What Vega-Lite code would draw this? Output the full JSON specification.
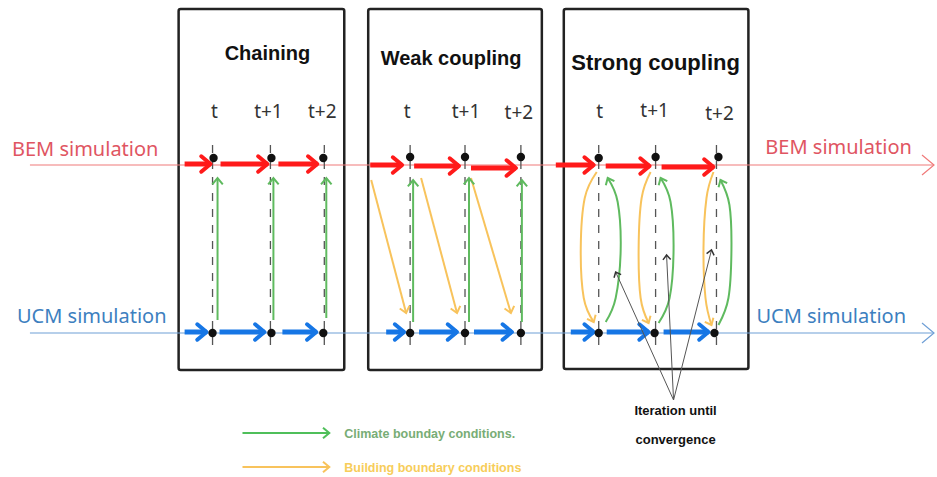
{
  "$schema": "https://vega.github.io/schema/vega-lite/v6.json",
  "autosize": {"type": "fit", "contains": "padding"},
  "width": 937,
  "height": 477,
  "padding": 0,
  "background": "white",
  "config": {"view": {"stroke": null}},
  "datasets": {
    "boxes": [
      {"name": "Chaining", "x": 179, "x2": 345, "y": 9, "y2": 370},
      {"name": "Weak coupling", "x": 369, "x2": 543, "y": 9, "y2": 370},
      {"name": "Strong coupling", "x": 565, "x2": 750, "y": 9, "y2": 369}
    ],
    "titles": [
      {"text": "Chaining", "x": 268, "y": 54},
      {"text": "Weak coupling", "x": 452, "y": 59},
      {"text": "Strong coupling", "x": 657, "y": 63}
    ],
    "steps": [
      {"text": "t", "x": 215, "y": 112}, {"text": "t+1", "x": 269, "y": 112}, {"text": "t+2", "x": 323, "y": 112},
      {"text": "t", "x": 408, "y": 112}, {"text": "t+1", "x": 467, "y": 112}, {"text": "t+2", "x": 520, "y": 113},
      {"text": "t", "x": 601, "y": 112}, {"text": "t+1", "x": 656, "y": 111}, {"text": "t+2", "x": 721, "y": 114}
    ],
    "dots": [
      {"sim": "BEM", "x": 214, "y": 158}, {"sim": "BEM", "x": 272, "y": 158}, {"sim": "BEM", "x": 324, "y": 158},
      {"sim": "BEM", "x": 411, "y": 157}, {"sim": "BEM", "x": 466, "y": 157}, {"sim": "BEM", "x": 522, "y": 157},
      {"sim": "BEM", "x": 600, "y": 158}, {"sim": "BEM", "x": 657, "y": 157}, {"sim": "BEM", "x": 720, "y": 157},
      {"sim": "UCM", "x": 213, "y": 333}, {"sim": "UCM", "x": 272, "y": 333}, {"sim": "UCM", "x": 324, "y": 333},
      {"sim": "UCM", "x": 411, "y": 333}, {"sim": "UCM", "x": 466, "y": 333}, {"sim": "UCM", "x": 522, "y": 333},
      {"sim": "UCM", "x": 600, "y": 333}, {"sim": "UCM", "x": 656, "y": 333}, {"sim": "UCM", "x": 716, "y": 333}
    ],
    "dashes": [
      {"x": 213, "y": 145, "y2": 348}, {"x": 271, "y": 145, "y2": 348}, {"x": 325, "y": 145, "y2": 348},
      {"x": 411, "y": 145, "y2": 348}, {"x": 466, "y": 145, "y2": 348}, {"x": 522, "y": 145, "y2": 348},
      {"x": 600, "y": 145, "y2": 348}, {"x": 657, "y": 145, "y2": 348}, {"x": 718, "y": 145, "y2": 348}
    ],
    "sidelines": [
      {"sim": "BEM", "x": 30, "y": 165, "x2": 936, "y2": 165},
      {"sim": "UCM", "x": 30, "y": 333, "x2": 936, "y2": 333}
    ],
    "sidelabels": [
      {"sim": "BEM", "text": "BEM simulation", "x": 12, "y": 150},
      {"sim": "BEM", "text": "BEM simulation", "x": 767, "y": 148},
      {"sim": "UCM", "text": "UCM simulation", "x": 17, "y": 317},
      {"sim": "UCM", "text": "UCM simulation", "x": 758, "y": 317}
    ],
    "thick": [
      {"sim": "BEM", "x": 185, "y": 164, "x2": 211, "y2": 164},
      {"sim": "BEM", "x": 221, "y": 164, "x2": 268, "y2": 164},
      {"sim": "BEM", "x": 279, "y": 164, "x2": 318, "y2": 164},
      {"sim": "BEM", "x": 371, "y": 165, "x2": 403, "y2": 165},
      {"sim": "BEM", "x": 415, "y": 166, "x2": 460, "y2": 166},
      {"sim": "BEM", "x": 472, "y": 168, "x2": 517, "y2": 168},
      {"sim": "BEM", "x": 557, "y": 165, "x2": 595, "y2": 165},
      {"sim": "BEM", "x": 607, "y": 166, "x2": 651, "y2": 166},
      {"sim": "BEM", "x": 663, "y": 167, "x2": 715, "y2": 167},
      {"sim": "UCM", "x": 185, "y": 332, "x2": 207, "y2": 332},
      {"sim": "UCM", "x": 220, "y": 332, "x2": 265, "y2": 332},
      {"sim": "UCM", "x": 283, "y": 332, "x2": 317, "y2": 332},
      {"sim": "UCM", "x": 387, "y": 332, "x2": 405, "y2": 332},
      {"sim": "UCM", "x": 420, "y": 332, "x2": 458, "y2": 332},
      {"sim": "UCM", "x": 475, "y": 332, "x2": 513, "y2": 332},
      {"sim": "UCM", "x": 572, "y": 332, "x2": 595, "y2": 332},
      {"sim": "UCM", "x": 608, "y": 332, "x2": 650, "y2": 332},
      {"sim": "UCM", "x": 665, "y": 332, "x2": 710, "y2": 332}
    ],
    "cond": [
      {"kind": "climate", "x": 218, "y": 320, "x2": 218, "y2": 178},
      {"kind": "climate", "x": 274, "y": 320, "x2": 274, "y2": 178},
      {"kind": "climate", "x": 327, "y": 318, "x2": 327, "y2": 178},
      {"kind": "climate", "x": 414, "y": 322, "x2": 414, "y2": 180},
      {"kind": "climate", "x": 470, "y": 322, "x2": 470, "y2": 178},
      {"kind": "climate", "x": 523, "y": 322, "x2": 523, "y2": 180},
      {"kind": "building", "x": 372, "y": 180, "x2": 407, "y2": 313},
      {"kind": "building", "x": 422, "y": 178, "x2": 458, "y2": 313},
      {"kind": "building", "x": 472, "y": 178, "x2": 512, "y2": 313}
    ],
    "arcs": [
      {"arc": "b1", "kind": "building", "i": 0, "x": 598, "y": 172},
      {"arc": "b1", "kind": "building", "i": 1, "x": 586, "y": 198},
      {"arc": "b1", "kind": "building", "i": 2, "x": 582, "y": 248},
      {"arc": "b1", "kind": "building", "i": 3, "x": 585, "y": 298},
      {"arc": "b1", "kind": "building", "i": 4, "x": 595, "y": 322},
      {"arc": "c1", "kind": "climate", "i": 0, "x": 607, "y": 322},
      {"arc": "c1", "kind": "climate", "i": 1, "x": 617, "y": 298},
      {"arc": "c1", "kind": "climate", "i": 2, "x": 622, "y": 250},
      {"arc": "c1", "kind": "climate", "i": 3, "x": 619, "y": 202},
      {"arc": "c1", "kind": "climate", "i": 4, "x": 609, "y": 178},
      {"arc": "b2", "kind": "building", "i": 0, "x": 652, "y": 172},
      {"arc": "b2", "kind": "building", "i": 1, "x": 643, "y": 198},
      {"arc": "b2", "kind": "building", "i": 2, "x": 640, "y": 248},
      {"arc": "b2", "kind": "building", "i": 3, "x": 642, "y": 298},
      {"arc": "b2", "kind": "building", "i": 4, "x": 650, "y": 323},
      {"arc": "c2", "kind": "climate", "i": 0, "x": 660, "y": 323},
      {"arc": "c2", "kind": "climate", "i": 1, "x": 671, "y": 298},
      {"arc": "c2", "kind": "climate", "i": 2, "x": 675, "y": 250},
      {"arc": "c2", "kind": "climate", "i": 3, "x": 672, "y": 202},
      {"arc": "c2", "kind": "climate", "i": 4, "x": 662, "y": 178},
      {"arc": "b3", "kind": "building", "i": 0, "x": 715, "y": 172},
      {"arc": "b3", "kind": "building", "i": 1, "x": 708, "y": 198},
      {"arc": "b3", "kind": "building", "i": 2, "x": 705, "y": 248},
      {"arc": "b3", "kind": "building", "i": 3, "x": 707, "y": 298},
      {"arc": "b3", "kind": "building", "i": 4, "x": 713, "y": 325},
      {"arc": "c3", "kind": "climate", "i": 0, "x": 720, "y": 325},
      {"arc": "c3", "kind": "climate", "i": 1, "x": 730, "y": 298},
      {"arc": "c3", "kind": "climate", "i": 2, "x": 733, "y": 250},
      {"arc": "c3", "kind": "climate", "i": 3, "x": 731, "y": 205},
      {"arc": "c3", "kind": "climate", "i": 4, "x": 722, "y": 180}
    ],
    "iter": [
      {"target": "t", "x": 675, "y": 400, "x2": 617, "y2": 272},
      {"target": "t+1", "x": 675, "y": 400, "x2": 668, "y2": 255},
      {"target": "t+2", "x": 675, "y": 400, "x2": 713, "y2": 250}
    ],
    "legend": [
      {"kind": "climate", "x": 243, "y": 433, "x2": 330, "y2": 433},
      {"kind": "building", "x": 243, "y": 467, "x2": 330, "y2": 467}
    ],
    "legendtext": [
      {"kind": "climate", "text": "Climate bounday conditions.", "x": 345, "y": 434},
      {"kind": "building", "text": "Building boundary conditions", "x": 345, "y": 468}
    ],
    "notes": [
      {"text": "Iteration until", "x": 677, "y": 411},
      {"text": "convergence", "x": 677, "y": 440}
    ]
  },
  "layer": [
    {
      "data": {"name": "boxes"},
      "mark": {"type": "rect", "filled": false, "stroke": "#222222", "strokeWidth": 2.5, "cornerRadius": 2},
      "encoding": {
        "x": {"field": "x", "type": "quantitative", "scale": {"domain": [0, 937], "nice": false, "zero": false}, "axis": null},
        "x2": {"field": "x2"},
        "y": {"field": "y", "type": "quantitative", "scale": {"domain": [0, 477], "nice": false, "zero": false, "reverse": true}, "axis": null},
        "y2": {"field": "y2"}
      }
    },
    {
      "data": {"name": "sidelines"},
      "transform": [{"filter": "datum.sim == 'BEM'"}],
      "mark": {"type": "rule", "color": "#f07a7a", "strokeWidth": 1.2},
      "encoding": {
        "x": {"field": "x", "type": "quantitative", "scale": {"domain": [0, 937], "nice": false, "zero": false}, "axis": null},
        "x2": {"field": "x2"},
        "y": {"field": "y", "type": "quantitative", "scale": {"domain": [0, 477], "nice": false, "zero": false, "reverse": true}, "axis": null},
        "y2": {"field": "y2"}
      }
    },
    {
      "data": {"name": "sidelines"},
      "transform": [{"filter": "datum.sim == 'UCM'"}],
      "mark": {"type": "rule", "color": "#6f9fd6", "strokeWidth": 1.2},
      "encoding": {
        "x": {"field": "x", "type": "quantitative", "scale": {"domain": [0, 937], "nice": false, "zero": false}, "axis": null},
        "x2": {"field": "x2"},
        "y": {"field": "y", "type": "quantitative", "scale": {"domain": [0, 477], "nice": false, "zero": false, "reverse": true}, "axis": null},
        "y2": {"field": "y2"}
      }
    },
    {
      "data": {"name": "sidelines"},
      "transform": [{"filter": "datum.sim == 'BEM'"}],
      "mark": {"type": "point", "shape": "M-1.2,-1L0,0L-1.2,1", "size": 400, "filled": false, "stroke": "#f07a7a", "strokeWidth": 1.2, "opacity": 1, "angle": 0},
      "encoding": {
        "x": {"field": "x2", "type": "quantitative", "scale": {"domain": [0, 937], "nice": false, "zero": false}, "axis": null},
        "y": {"field": "y2", "type": "quantitative", "scale": {"domain": [0, 477], "nice": false, "zero": false, "reverse": true}, "axis": null}
      }
    },
    {
      "data": {"name": "sidelines"},
      "transform": [{"filter": "datum.sim == 'UCM'"}],
      "mark": {"type": "point", "shape": "M-1.2,-1L0,0L-1.2,1", "size": 400, "filled": false, "stroke": "#6f9fd6", "strokeWidth": 1.2, "opacity": 1, "angle": 0},
      "encoding": {
        "x": {"field": "x2", "type": "quantitative", "scale": {"domain": [0, 937], "nice": false, "zero": false}, "axis": null},
        "y": {"field": "y2", "type": "quantitative", "scale": {"domain": [0, 477], "nice": false, "zero": false, "reverse": true}, "axis": null}
      }
    },
    {
      "data": {"name": "dashes"},
      "mark": {"type": "rule", "color": "#555555", "strokeWidth": 1.3, "strokeDash": [8, 8]},
      "encoding": {
        "x": {"field": "x", "type": "quantitative", "scale": {"domain": [0, 937], "nice": false, "zero": false}, "axis": null},
        "y": {"field": "y", "type": "quantitative", "scale": {"domain": [0, 477], "nice": false, "zero": false, "reverse": true}, "axis": null},
        "y2": {"field": "y2"}
      }
    },
    {
      "data": {"name": "cond"},
      "transform": [{"filter": "datum.kind == 'climate'"}],
      "mark": {"type": "rule", "color": "#5fba5f", "strokeWidth": 2},
      "encoding": {
        "x": {"field": "x", "type": "quantitative", "scale": {"domain": [0, 937], "nice": false, "zero": false}, "axis": null},
        "x2": {"field": "x2"},
        "y": {"field": "y", "type": "quantitative", "scale": {"domain": [0, 477], "nice": false, "zero": false, "reverse": true}, "axis": null},
        "y2": {"field": "y2"}
      }
    },
    {
      "data": {"name": "cond"},
      "transform": [{"filter": "datum.kind == 'building'"}],
      "mark": {"type": "rule", "color": "#f8c35c", "strokeWidth": 2},
      "encoding": {
        "x": {"field": "x", "type": "quantitative", "scale": {"domain": [0, 937], "nice": false, "zero": false}, "axis": null},
        "x2": {"field": "x2"},
        "y": {"field": "y", "type": "quantitative", "scale": {"domain": [0, 477], "nice": false, "zero": false, "reverse": true}, "axis": null},
        "y2": {"field": "y2"}
      }
    },
    {
      "data": {"name": "cond"},
      "transform": [{"filter": "datum.kind == 'climate'"}],
      "mark": {"type": "point", "shape": "M-1.2,-1L0,0L-1.2,1", "size": 110, "filled": false, "stroke": "#5fba5f", "strokeWidth": 2, "opacity": 1, "angle": 270},
      "encoding": {
        "x": {"field": "x2", "type": "quantitative", "scale": {"domain": [0, 937], "nice": false, "zero": false}, "axis": null},
        "y": {"field": "y2", "type": "quantitative", "scale": {"domain": [0, 477], "nice": false, "zero": false, "reverse": true}, "axis": null}
      }
    },
    {
      "data": {"name": "cond"},
      "transform": [{"filter": "datum.kind == 'building'"}],
      "mark": {"type": "point", "shape": "M-1.2,-1L0,0L-1.2,1", "size": 100, "filled": false, "stroke": "#f8c35c", "strokeWidth": 2, "opacity": 1, "angle": 75},
      "encoding": {
        "x": {"field": "x2", "type": "quantitative", "scale": {"domain": [0, 937], "nice": false, "zero": false}, "axis": null},
        "y": {"field": "y2", "type": "quantitative", "scale": {"domain": [0, 477], "nice": false, "zero": false, "reverse": true}, "axis": null}
      }
    },
    {
      "data": {"name": "arcs"},
      "transform": [{"filter": "datum.kind == 'building'"}],
      "mark": {"type": "line", "color": "#f8c35c", "strokeWidth": 2, "interpolate": "cardinal"},
      "encoding": {
        "x": {"field": "x", "type": "quantitative", "scale": {"domain": [0, 937], "nice": false, "zero": false}, "axis": null},
        "y": {"field": "y", "type": "quantitative", "scale": {"domain": [0, 477], "nice": false, "zero": false, "reverse": true}, "axis": null},
        "detail": {"field": "arc", "type": "nominal"},
        "order": {"field": "i", "type": "quantitative"}
      }
    },
    {
      "data": {"name": "arcs"},
      "transform": [{"filter": "datum.kind == 'climate'"}],
      "mark": {"type": "line", "color": "#5fba5f", "strokeWidth": 2, "interpolate": "cardinal"},
      "encoding": {
        "x": {"field": "x", "type": "quantitative", "scale": {"domain": [0, 937], "nice": false, "zero": false}, "axis": null},
        "y": {"field": "y", "type": "quantitative", "scale": {"domain": [0, 477], "nice": false, "zero": false, "reverse": true}, "axis": null},
        "detail": {"field": "arc", "type": "nominal"},
        "order": {"field": "i", "type": "quantitative"}
      }
    },
    {
      "data": {"name": "arcs"},
      "transform": [{"filter": "datum.kind == 'building' && datum.i == 4"}],
      "mark": {"type": "point", "shape": "M-1.2,-1L0,0L-1.2,1", "size": 90, "filled": false, "stroke": "#f8c35c", "strokeWidth": 2, "opacity": 1, "angle": 65},
      "encoding": {
        "x": {"field": "x", "type": "quantitative", "scale": {"domain": [0, 937], "nice": false, "zero": false}, "axis": null},
        "y": {"field": "y", "type": "quantitative", "scale": {"domain": [0, 477], "nice": false, "zero": false, "reverse": true}, "axis": null}
      }
    },
    {
      "data": {"name": "arcs"},
      "transform": [{"filter": "datum.kind == 'climate' && datum.i == 4"}],
      "mark": {"type": "point", "shape": "M-1.2,-1L0,0L-1.2,1", "size": 90, "filled": false, "stroke": "#5fba5f", "strokeWidth": 2, "opacity": 1, "angle": 245},
      "encoding": {
        "x": {"field": "x", "type": "quantitative", "scale": {"domain": [0, 937], "nice": false, "zero": false}, "axis": null},
        "y": {"field": "y", "type": "quantitative", "scale": {"domain": [0, 477], "nice": false, "zero": false, "reverse": true}, "axis": null}
      }
    },
    {
      "data": {"name": "thick"},
      "transform": [{"filter": "datum.sim == 'BEM'"}],
      "mark": {"type": "rule", "color": "#ff1a1a", "strokeWidth": 5, "strokeCap": "butt"},
      "encoding": {
        "x": {"field": "x", "type": "quantitative", "scale": {"domain": [0, 937], "nice": false, "zero": false}, "axis": null},
        "x2": {"field": "x2"},
        "y": {"field": "y", "type": "quantitative", "scale": {"domain": [0, 477], "nice": false, "zero": false, "reverse": true}, "axis": null},
        "y2": {"field": "y2"}
      }
    },
    {
      "data": {"name": "thick"},
      "transform": [{"filter": "datum.sim == 'UCM'"}],
      "mark": {"type": "rule", "color": "#1676e5", "strokeWidth": 5, "strokeCap": "butt"},
      "encoding": {
        "x": {"field": "x", "type": "quantitative", "scale": {"domain": [0, 937], "nice": false, "zero": false}, "axis": null},
        "x2": {"field": "x2"},
        "y": {"field": "y", "type": "quantitative", "scale": {"domain": [0, 477], "nice": false, "zero": false, "reverse": true}, "axis": null},
        "y2": {"field": "y2"}
      }
    },
    {
      "data": {"name": "thick"},
      "transform": [{"filter": "datum.sim == 'BEM'"}],
      "mark": {"type": "point", "shape": "M-1.2,-1L0,0L-1.2,1", "size": 240, "filled": false, "stroke": "#ff1a1a", "strokeWidth": 4, "opacity": 1, "strokeJoin": "round", "strokeCap": "round"},
      "encoding": {
        "x": {"field": "x2", "type": "quantitative", "scale": {"domain": [0, 937], "nice": false, "zero": false}, "axis": null},
        "y": {"field": "y2", "type": "quantitative", "scale": {"domain": [0, 477], "nice": false, "zero": false, "reverse": true}, "axis": null}
      }
    },
    {
      "data": {"name": "thick"},
      "transform": [{"filter": "datum.sim == 'UCM'"}],
      "mark": {"type": "point", "shape": "M-1.2,-1L0,0L-1.2,1", "size": 240, "filled": false, "stroke": "#1676e5", "strokeWidth": 4, "opacity": 1, "strokeJoin": "round", "strokeCap": "round"},
      "encoding": {
        "x": {"field": "x2", "type": "quantitative", "scale": {"domain": [0, 937], "nice": false, "zero": false}, "axis": null},
        "y": {"field": "y2", "type": "quantitative", "scale": {"domain": [0, 477], "nice": false, "zero": false, "reverse": true}, "axis": null}
      }
    },
    {
      "data": {"name": "dots"},
      "mark": {"type": "circle", "color": "#111111", "size": 70, "opacity": 1},
      "encoding": {
        "x": {"field": "x", "type": "quantitative", "scale": {"domain": [0, 937], "nice": false, "zero": false}, "axis": null},
        "y": {"field": "y", "type": "quantitative", "scale": {"domain": [0, 477], "nice": false, "zero": false, "reverse": true}, "axis": null}
      }
    },
    {
      "data": {"name": "iter"},
      "mark": {"type": "rule", "color": "#555555", "strokeWidth": 1},
      "encoding": {
        "x": {"field": "x", "type": "quantitative", "scale": {"domain": [0, 937], "nice": false, "zero": false}, "axis": null},
        "x2": {"field": "x2"},
        "y": {"field": "y", "type": "quantitative", "scale": {"domain": [0, 477], "nice": false, "zero": false, "reverse": true}, "axis": null},
        "y2": {"field": "y2"}
      }
    },
    {
      "data": {"name": "iter"},
      "transform": [{"filter": "datum.target == 't'"}],
      "mark": {"type": "point", "shape": "M-1.2,-1L0,0L-1.2,1", "size": 60, "filled": false, "stroke": "#333333", "strokeWidth": 1.5, "opacity": 1, "angle": 246},
      "encoding": {
        "x": {"field": "x2", "type": "quantitative", "scale": {"domain": [0, 937], "nice": false, "zero": false}, "axis": null},
        "y": {"field": "y2", "type": "quantitative", "scale": {"domain": [0, 477], "nice": false, "zero": false, "reverse": true}, "axis": null}
      }
    },
    {
      "data": {"name": "iter"},
      "transform": [{"filter": "datum.target == 't+1'"}],
      "mark": {"type": "point", "shape": "M-1.2,-1L0,0L-1.2,1", "size": 60, "filled": false, "stroke": "#333333", "strokeWidth": 1.5, "opacity": 1, "angle": 267},
      "encoding": {
        "x": {"field": "x2", "type": "quantitative", "scale": {"domain": [0, 937], "nice": false, "zero": false}, "axis": null},
        "y": {"field": "y2", "type": "quantitative", "scale": {"domain": [0, 477], "nice": false, "zero": false, "reverse": true}, "axis": null}
      }
    },
    {
      "data": {"name": "iter"},
      "transform": [{"filter": "datum.target == 't+2'"}],
      "mark": {"type": "point", "shape": "M-1.2,-1L0,0L-1.2,1", "size": 60, "filled": false, "stroke": "#333333", "strokeWidth": 1.5, "opacity": 1, "angle": 284},
      "encoding": {
        "x": {"field": "x2", "type": "quantitative", "scale": {"domain": [0, 937], "nice": false, "zero": false}, "axis": null},
        "y": {"field": "y2", "type": "quantitative", "scale": {"domain": [0, 477], "nice": false, "zero": false, "reverse": true}, "axis": null}
      }
    },
    {
      "data": {"name": "legend"},
      "transform": [{"filter": "datum.kind == 'climate'"}],
      "mark": {"type": "rule", "color": "#4fbf5a", "strokeWidth": 2},
      "encoding": {
        "x": {"field": "x", "type": "quantitative", "scale": {"domain": [0, 937], "nice": false, "zero": false}, "axis": null},
        "x2": {"field": "x2"},
        "y": {"field": "y", "type": "quantitative", "scale": {"domain": [0, 477], "nice": false, "zero": false, "reverse": true}, "axis": null},
        "y2": {"field": "y2"}
      }
    },
    {
      "data": {"name": "legend"},
      "transform": [{"filter": "datum.kind == 'building'"}],
      "mark": {"type": "rule", "color": "#f8c35c", "strokeWidth": 2},
      "encoding": {
        "x": {"field": "x", "type": "quantitative", "scale": {"domain": [0, 937], "nice": false, "zero": false}, "axis": null},
        "x2": {"field": "x2"},
        "y": {"field": "y", "type": "quantitative", "scale": {"domain": [0, 477], "nice": false, "zero": false, "reverse": true}, "axis": null},
        "y2": {"field": "y2"}
      }
    },
    {
      "data": {"name": "legend"},
      "transform": [{"filter": "datum.kind == 'climate'"}],
      "mark": {"type": "point", "shape": "M-1.2,-1L0,0L-1.2,1", "size": 110, "filled": false, "stroke": "#4fbf5a", "strokeWidth": 2, "opacity": 1, "angle": 0},
      "encoding": {
        "x": {"field": "x2", "type": "quantitative", "scale": {"domain": [0, 937], "nice": false, "zero": false}, "axis": null},
        "y": {"field": "y2", "type": "quantitative", "scale": {"domain": [0, 477], "nice": false, "zero": false, "reverse": true}, "axis": null}
      }
    },
    {
      "data": {"name": "legend"},
      "transform": [{"filter": "datum.kind == 'building'"}],
      "mark": {"type": "point", "shape": "M-1.2,-1L0,0L-1.2,1", "size": 110, "filled": false, "stroke": "#f8c35c", "strokeWidth": 2, "opacity": 1, "angle": 0},
      "encoding": {
        "x": {"field": "x2", "type": "quantitative", "scale": {"domain": [0, 937], "nice": false, "zero": false}, "axis": null},
        "y": {"field": "y2", "type": "quantitative", "scale": {"domain": [0, 477], "nice": false, "zero": false, "reverse": true}, "axis": null}
      }
    },
    {
      "data": {"name": "legendtext"},
      "transform": [{"filter": "datum.kind == 'climate'"}],
      "mark": {"type": "text", "align": "left", "baseline": "middle", "font": "Liberation Sans", "fontWeight": "bold", "fontSize": 12.5, "color": "#78ad76"},
      "encoding": {
        "x": {"field": "x", "type": "quantitative", "scale": {"domain": [0, 937], "nice": false, "zero": false}, "axis": null},
        "y": {"field": "y", "type": "quantitative", "scale": {"domain": [0, 477], "nice": false, "zero": false, "reverse": true}, "axis": null},
        "text": {"field": "text"}
      }
    },
    {
      "data": {"name": "legendtext"},
      "transform": [{"filter": "datum.kind == 'building'"}],
      "mark": {"type": "text", "align": "left", "baseline": "middle", "font": "Liberation Sans", "fontWeight": "bold", "fontSize": 12.5, "color": "#f7cd5a"},
      "encoding": {
        "x": {"field": "x", "type": "quantitative", "scale": {"domain": [0, 937], "nice": false, "zero": false}, "axis": null},
        "y": {"field": "y", "type": "quantitative", "scale": {"domain": [0, 477], "nice": false, "zero": false, "reverse": true}, "axis": null},
        "text": {"field": "text"}
      }
    },
    {
      "data": {"name": "titles"},
      "transform": [{"filter": "datum.text != 'Strong coupling'"}],
      "mark": {"type": "text", "align": "center", "baseline": "middle", "font": "Liberation Sans", "fontWeight": "bold", "fontSize": 20, "color": "#111111"},
      "encoding": {
        "x": {"field": "x", "type": "quantitative", "scale": {"domain": [0, 937], "nice": false, "zero": false}, "axis": null},
        "y": {"field": "y", "type": "quantitative", "scale": {"domain": [0, 477], "nice": false, "zero": false, "reverse": true}, "axis": null},
        "text": {"field": "text"}
      }
    },
    {
      "data": {"name": "titles"},
      "transform": [{"filter": "datum.text == 'Strong coupling'"}],
      "mark": {"type": "text", "align": "center", "baseline": "middle", "font": "Liberation Sans", "fontWeight": "bold", "fontSize": 22, "color": "#111111"},
      "encoding": {
        "x": {"field": "x", "type": "quantitative", "scale": {"domain": [0, 937], "nice": false, "zero": false}, "axis": null},
        "y": {"field": "y", "type": "quantitative", "scale": {"domain": [0, 477], "nice": false, "zero": false, "reverse": true}, "axis": null},
        "text": {"field": "text"}
      }
    },
    {
      "data": {"name": "steps"},
      "mark": {"type": "text", "align": "center", "baseline": "middle", "font": "Noto Sans", "fontSize": 19, "color": "#333333"},
      "encoding": {
        "x": {"field": "x", "type": "quantitative", "scale": {"domain": [0, 937], "nice": false, "zero": false}, "axis": null},
        "y": {"field": "y", "type": "quantitative", "scale": {"domain": [0, 477], "nice": false, "zero": false, "reverse": true}, "axis": null},
        "text": {"field": "text"}
      }
    },
    {
      "data": {"name": "sidelabels"},
      "transform": [{"filter": "datum.sim == 'BEM'"}],
      "mark": {"type": "text", "align": "left", "baseline": "middle", "font": "Noto Sans", "fontSize": 20, "color": "#e05562"},
      "encoding": {
        "x": {"field": "x", "type": "quantitative", "scale": {"domain": [0, 937], "nice": false, "zero": false}, "axis": null},
        "y": {"field": "y", "type": "quantitative", "scale": {"domain": [0, 477], "nice": false, "zero": false, "reverse": true}, "axis": null},
        "text": {"field": "text"}
      }
    },
    {
      "data": {"name": "sidelabels"},
      "transform": [{"filter": "datum.sim == 'UCM'"}],
      "mark": {"type": "text", "align": "left", "baseline": "middle", "font": "Noto Sans", "fontSize": 20, "color": "#3d7fbf"},
      "encoding": {
        "x": {"field": "x", "type": "quantitative", "scale": {"domain": [0, 937], "nice": false, "zero": false}, "axis": null},
        "y": {"field": "y", "type": "quantitative", "scale": {"domain": [0, 477], "nice": false, "zero": false, "reverse": true}, "axis": null},
        "text": {"field": "text"}
      }
    },
    {
      "data": {"name": "notes"},
      "mark": {"type": "text", "align": "center", "baseline": "middle", "font": "Liberation Sans", "fontWeight": "bold", "fontSize": 13, "color": "#111111"},
      "encoding": {
        "x": {"field": "x", "type": "quantitative", "scale": {"domain": [0, 937], "nice": false, "zero": false}, "axis": null},
        "y": {"field": "y", "type": "quantitative", "scale": {"domain": [0, 477], "nice": false, "zero": false, "reverse": true}, "axis": null},
        "text": {"field": "text"}
      }
    }
  ]
}
